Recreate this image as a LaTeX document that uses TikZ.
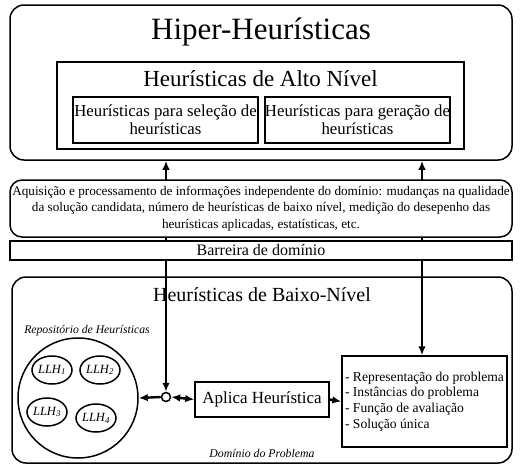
\documentclass[tikz,border=0pt]{standalone}
\usepackage{fontspec}
\setmainfont{Liberation Serif}
\usetikzlibrary{arrows.meta,backgrounds,shapes.geometric}
\newcommand{\fsz}[2]{\fontsize{#1}{#2}\selectfont}
\tikzset{
  box/.style={draw, line width=1.5pt, inner sep=0pt, fill=white},
  rbox/.style={box, rounded corners=14pt},
  conn/.style={line width=2.4pt, -{Latex[length=9pt,width=7.5pt]}},
  biconn/.style={line width=2.4pt, {Latex[length=9pt,width=7.5pt]}-{Latex[length=9pt,width=7.5pt]}},
  llh/.style={draw, line width=1.5pt, ellipse, minimum width=40pt, minimum height=28pt, inner sep=0pt, font=\fsz{12.5}{14}\itshape},
}
\begin{document}
\begin{tikzpicture}[x=1pt,y=-1pt]
\useasboundingbox (0,0) rectangle (522,472);
% top block
\node[rbox, fill=none, minimum width=502pt, minimum height=155pt] (top) at (261,82.5) {};
\node[font=\fsz{31}{34}] (title) at (261,32) {Hiper-Heurísticas};
\node[box, fill=none, line width=2.2pt, minimum width=407pt, minimum height=87pt] (alto) at (260.5,105.5) {};
\node[font=\fsz{23}{26}] (altot) at (260.5,79) {Heurísticas de Alto Nível};
\node[box, fill=none, line width=2.2pt, minimum width=185pt, minimum height=46pt, align=center, font=\fsz{16.8}{18}] (sel) at (165.5,120) {Heurísticas para seleção de\\heurísticas};
\node[box, fill=none, line width=2.2pt, minimum width=185pt, minimum height=46pt, align=center, font=\fsz{16.8}{18}] (ger) at (357.5,120) {Heurísticas para geração de\\heurísticas};
% info
\node[rbox, rounded corners=12pt, minimum width=502pt, minimum height=57pt, align=center, font=\fsz{13.2}{16.5}] (info) at (261,208.5)
 {Aquisição e processamento de informações independente do domínio: mudanças na qualidade\\
  da solução candidata, número de heurísticas de baixo nível, medição do desepenho das\\
  heurísticas aplicadas, estatísticas, etc.};
\node[box, minimum width=502pt, minimum height=19pt, font=\fsz{16}{18}] (bar) at (261,250.5) {Barreira de domínio};
% lower block
\node[rbox, fill=none, minimum width=500pt, minimum height=186pt] (low) at (262,370) {};
\node[font=\fsz{20}{24}] (lowt) at (262,295) {Heurísticas de Baixo-Nível};
\node[font=\fsz{11.7}{13}\itshape] (repl) at (87,331) {Repositório de Heurísticas};
\node[draw, line width=1.5pt, circle, minimum size=120pt, inner sep=0pt] (rep) at (78,398) {};
\node[llh] (l1) at (52,370) {LLH\textsubscript{1}};
\node[llh] (l2) at (100,370) {LLH\textsubscript{2}};
\node[llh] (l3) at (47,412) {LLH\textsubscript{3}};
\node[llh] (l4) at (96,418) {LLH\textsubscript{4}};
\node[draw, line width=1.5pt, circle, minimum size=9pt, inner sep=0pt, fill=white] (sc) at (166,397) {};
\node[box, minimum width=134pt, minimum height=35pt, font=\fsz{17}{20}] (apl) at (262,399.5) {Aplica Heurística};
\node[box, minimum width=165pt, minimum height=91pt, align=left, inner sep=3pt, font=\fsz{13.6}{15.6}] (prob) at (424.5,401.5)
 {- Representação do problema\\- Instâncias do problema\\- Função de avaliação\\- Solução única};
\node[font=\fsz{11.8}{13}\itshape] (dom) at (262,453) {Domínio do Problema};
% connectors
\begin{scope}[on background layer]
\draw[biconn] (sc.north) -- (sc.north |- top.south);
\draw[biconn] ([xshift=-2.5pt]prob.north) -- ([xshift=-2.5pt]prob.north |- top.south);
\end{scope}
\draw[conn] (sc.west) -- (rep.east);
\draw[biconn] (sc.east) -- (apl.west);
\draw[conn] (apl.east) -- (prob.west);
\end{tikzpicture}
\end{document}
